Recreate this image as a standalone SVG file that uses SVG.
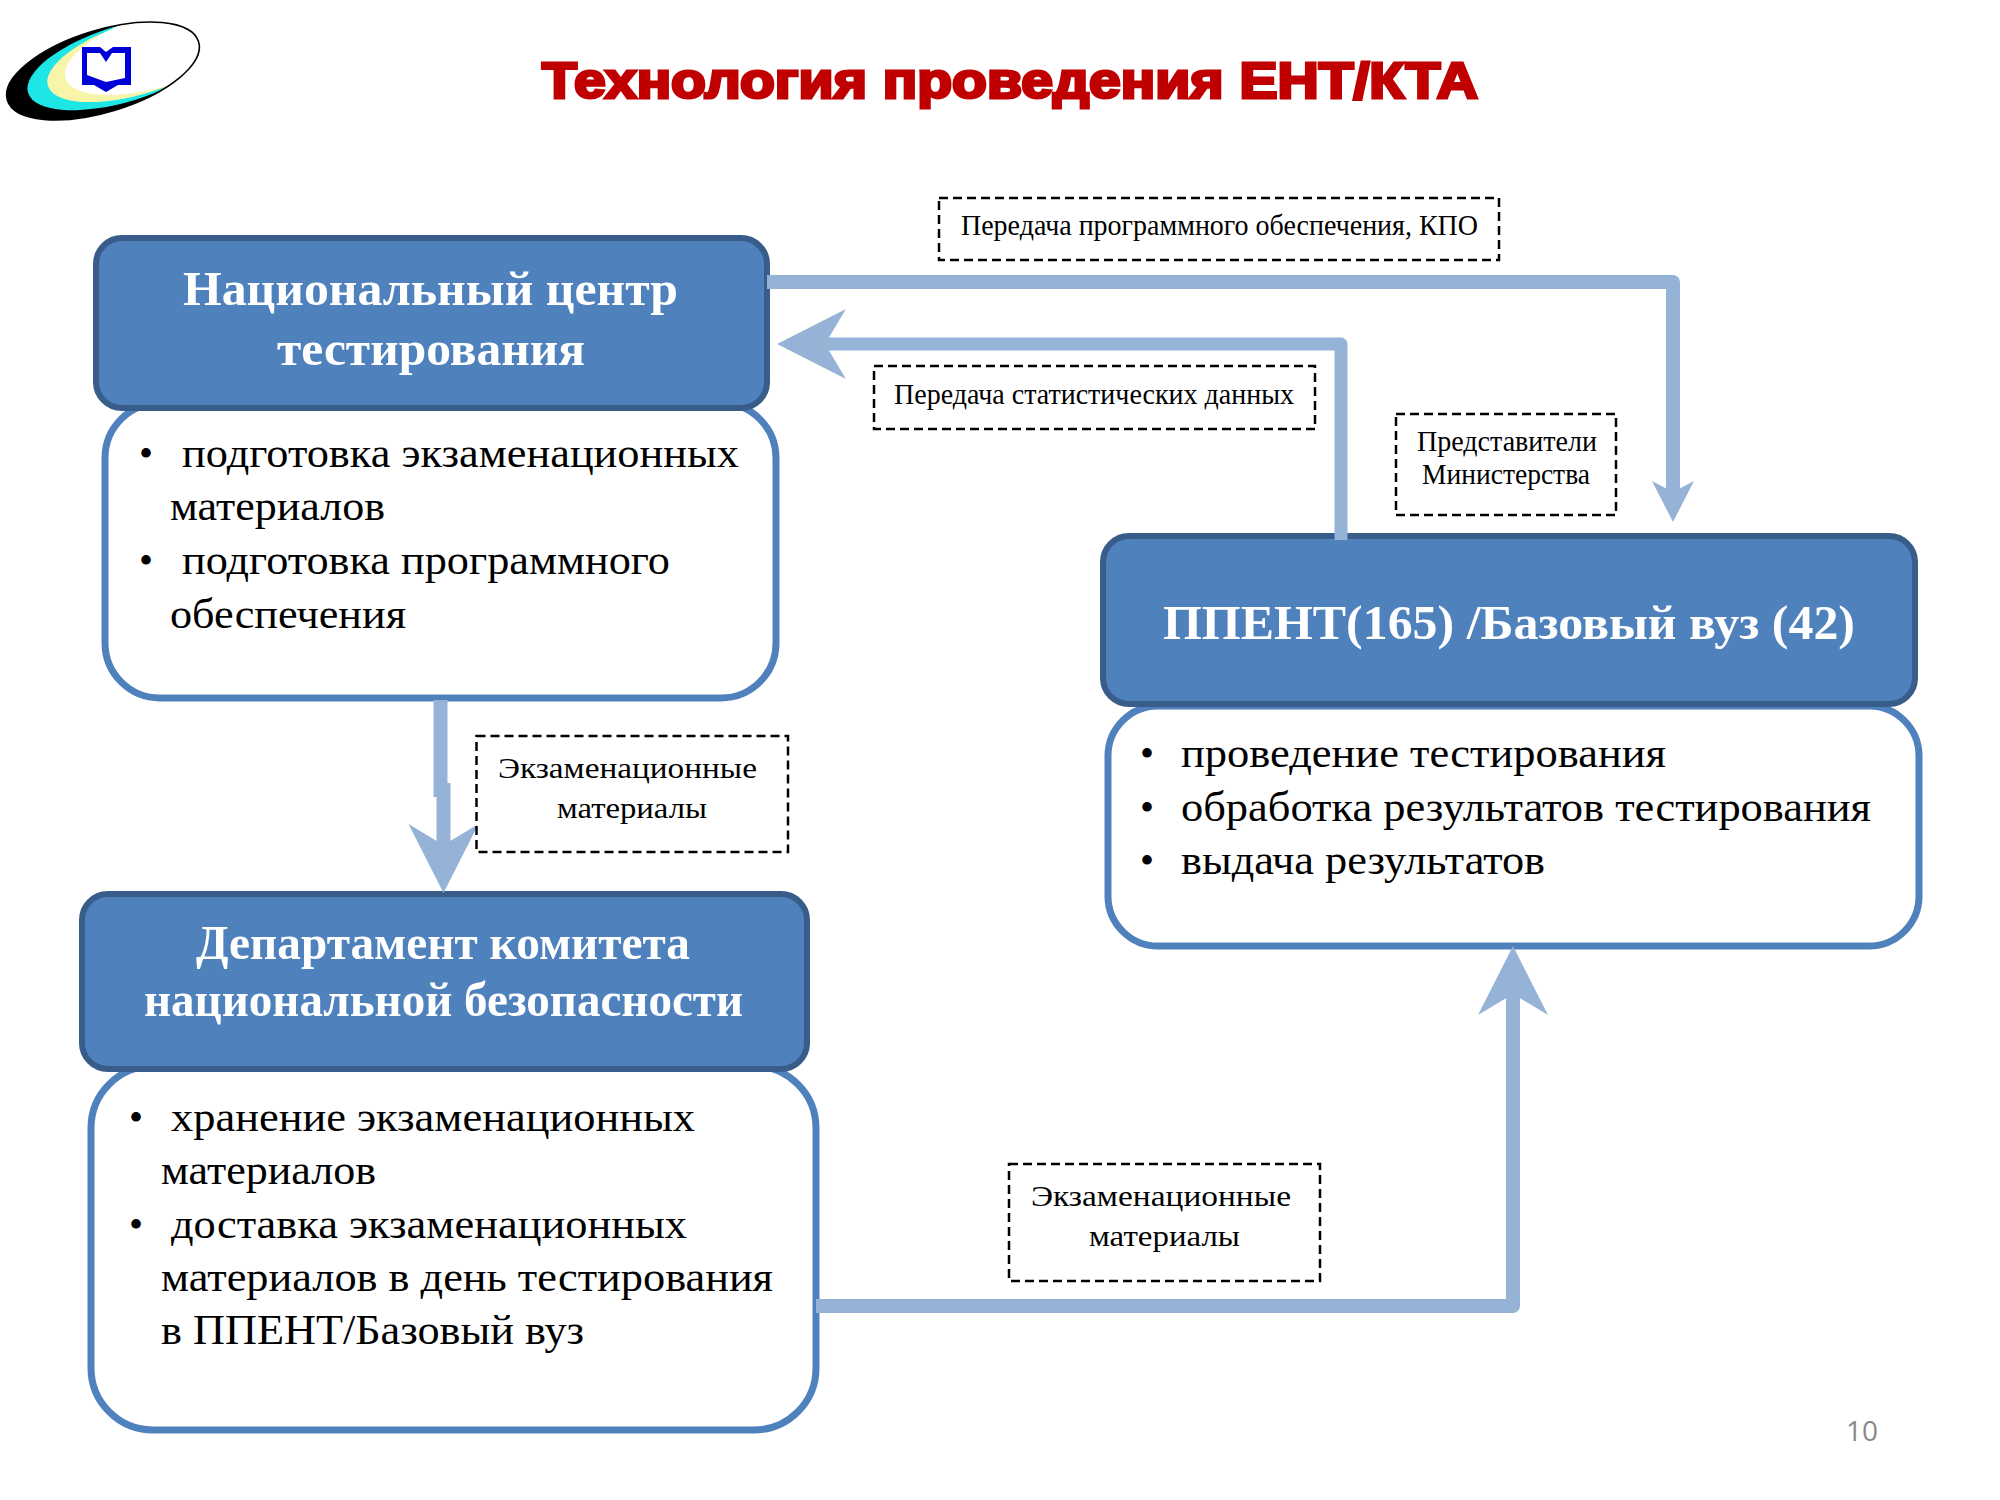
<svg xmlns="http://www.w3.org/2000/svg" width="2000" height="1500" viewBox="0 0 2000 1500">
<style>
.hd{fill:#4f81bd;stroke:#385d8a;stroke-width:6}
.bd{fill:#fff;stroke:#4f81bd;stroke-width:7}
.dash{fill:#fff;stroke:#000;stroke-width:2.5;stroke-dasharray:9 5}
.ht{font-family:"Liberation Serif",serif;font-weight:bold;font-size:49px;fill:#fff}
.bt{font-family:"Liberation Serif",serif;font-size:43px;fill:#000}
.bu{font-family:"Liberation Serif",serif;font-size:40px;fill:#000}
.lt{font-family:"Liberation Serif",serif;font-size:30px;fill:#000}
.cn{fill:none;stroke:#95b3d7;stroke-width:14;stroke-linejoin:round}
</style>
<defs>
<marker id="big" markerUnits="userSpaceOnUse" orient="auto" overflow="visible" refX="0" refY="0" markerWidth="1" markerHeight="1"><path d="M-41,-35 L28,0 L-41,35 L-20,0Z" fill="#95b3d7"/></marker>
<marker id="small" markerUnits="userSpaceOnUse" orient="auto" overflow="visible" refX="0" refY="0" markerWidth="1" markerHeight="1"><path d="M-19,-21 L22,0 L-19,21 L-8,0Z" fill="#95b3d7"/></marker>
<clipPath id="lc"><ellipse cx="103" cy="71" rx="100" ry="41"/></clipPath>
</defs>
<rect width="2000" height="1500" fill="#fff"/>
<g id="logo">
<g transform="rotate(-17 103 71)">
<g clip-path="url(#lc)">
<ellipse cx="103" cy="71" rx="100" ry="41" fill="#000"/>
<ellipse cx="125" cy="70" rx="100" ry="38" fill="#1fe6e6"/>
<ellipse cx="142" cy="69" rx="96" ry="36" fill="#f8f5a8"/>
<ellipse cx="165" cy="67" rx="100" ry="37" fill="#fff"/>
</g>
<ellipse cx="103" cy="71" rx="100" ry="41" fill="none" stroke="#000" stroke-width="1.500"/>
</g>
<path d="M82,47 H100 L106,52 L113,47 H131 V85 H118 L106,92 L94,85 H82Z M87,53 H100 L106,62 L112,53 H125 V78 L106,82 L87,75Z" fill="#0000d8" fill-rule="evenodd"/>
</g>
<text id="title" x="542" y="98" textLength="936" lengthAdjust="spacingAndGlyphs" font-family="'Liberation Sans',sans-serif" font-weight="bold" font-size="50" fill="#c00000" stroke="#c00000" stroke-width="3">Технология проведения ЕНТ/КТА</text>

<g id="node-center">
<rect class="bd" x="105" y="403" width="671" height="295" rx="55"/>
<rect class="hd" x="96" y="238" width="671" height="170" rx="26"/>
<text class="ht" x="183" y="305" textLength="495" lengthAdjust="spacingAndGlyphs">Национальный центр</text>
<text class="ht" x="277" y="365" textLength="308" lengthAdjust="spacingAndGlyphs">тестирования</text>
<text class="bu" x="139" y="467">•</text>
<text class="bt" x="182" y="467" textLength="557" lengthAdjust="spacingAndGlyphs">подготовка экзаменационных</text>
<text class="bt" x="170" y="520" textLength="215" lengthAdjust="spacingAndGlyphs">материалов</text>
<text class="bu" x="139" y="574">•</text>
<text class="bt" x="182" y="574" textLength="488" lengthAdjust="spacingAndGlyphs">подготовка программного</text>
<text class="bt" x="170" y="628" textLength="236" lengthAdjust="spacingAndGlyphs">обеспечения</text>
</g>
<g id="node-ppent">
<rect class="bd" x="1108" y="706" width="811" height="240" rx="50"/>
<rect class="hd" x="1103" y="536" width="812" height="168" rx="26"/>
<text class="ht" x="1163" y="639" textLength="692" lengthAdjust="spacingAndGlyphs">ППЕНТ(165) /Базовый вуз (42)</text>
<text class="bu" x="1140" y="767">•</text>
<text class="bt" x="1181" y="767" textLength="485" lengthAdjust="spacingAndGlyphs">проведение тестирования</text>
<text class="bu" x="1140" y="821">•</text>
<text class="bt" x="1181" y="821" textLength="690" lengthAdjust="spacingAndGlyphs">обработка результатов тестирования</text>
<text class="bu" x="1140" y="874">•</text>
<text class="bt" x="1181" y="874" textLength="364" lengthAdjust="spacingAndGlyphs">выдача результатов</text>
</g>
<g id="node-dept">
<rect class="bd" x="91" y="1066" width="725" height="364" rx="62"/>
<rect class="hd" x="82" y="894" width="725" height="175" rx="26"/>
<text class="ht" x="196" y="959" textLength="494" lengthAdjust="spacingAndGlyphs">Департамент комитета</text>
<text class="ht" x="144" y="1016" textLength="599" lengthAdjust="spacingAndGlyphs">национальной безопасности</text>
<text class="bu" x="129" y="1131">•</text>
<text class="bt" x="171" y="1131" textLength="524" lengthAdjust="spacingAndGlyphs">хранение экзаменационных</text>
<text class="bt" x="161" y="1184" textLength="215" lengthAdjust="spacingAndGlyphs">материалов</text>
<text class="bu" x="129" y="1238">•</text>
<text class="bt" x="171" y="1238" textLength="516" lengthAdjust="spacingAndGlyphs">доставка экзаменационных</text>
<text class="bt" x="161" y="1291" textLength="612" lengthAdjust="spacingAndGlyphs">материалов в день тестирования</text>
<text class="bt" x="161" y="1344" textLength="423" lengthAdjust="spacingAndGlyphs">в ППЕНТ/Базовый вуз</text>
</g>
<g id="connectors">
<path class="cn" d="M767,282 H1673 V500" marker-end="url(#small)"/>
<path class="cn" d="M1341,540 V344 H805" style="stroke-width:13" marker-end="url(#big)"/>
<path class="cn" d="M440.500,700 V790 H443.500 V865" style="stroke-linejoin:miter" marker-end="url(#big)"/>
<path class="cn" d="M816,1306 H1513 V974" marker-end="url(#big)"/>
</g>
<g id="label-1">
<rect class="dash" x="939" y="198" width="560" height="62"/>
<text class="lt" x="961" y="235" textLength="517" lengthAdjust="spacingAndGlyphs">Передача программного обеспечения, КПО</text>
</g>
<g id="label-2">
<rect class="dash" x="874" y="366" width="441" height="63"/>
<text class="lt" x="894" y="404" textLength="400" lengthAdjust="spacingAndGlyphs">Передача статистических данных</text>
</g>
<g id="label-3">
<rect class="dash" x="1396" y="414" width="220" height="101"/>
<text class="lt" x="1417" y="451" textLength="180" lengthAdjust="spacingAndGlyphs">Представители</text>
<text class="lt" x="1422" y="484" textLength="168" lengthAdjust="spacingAndGlyphs">Министерства</text>
</g>
<g id="label-4">
<rect class="dash" x="476.500" y="736" width="311.500" height="116"/>
<text class="lt" x="498" y="778" textLength="259" lengthAdjust="spacingAndGlyphs">Экзаменационные</text>
<text class="lt" x="557" y="818" textLength="150" lengthAdjust="spacingAndGlyphs">материалы</text>
</g>
<g id="label-5">
<rect class="dash" x="1009" y="1164" width="311" height="117"/>
<text class="lt" x="1031" y="1206" textLength="260" lengthAdjust="spacingAndGlyphs">Экзаменационные</text>
<text class="lt" x="1089" y="1246" textLength="151" lengthAdjust="spacingAndGlyphs">материалы</text>
</g>
<text id="page" x="1846" y="1441" font-family="'Open Sans',sans-serif" font-size="28" fill="#898989">10</text>
</svg>
